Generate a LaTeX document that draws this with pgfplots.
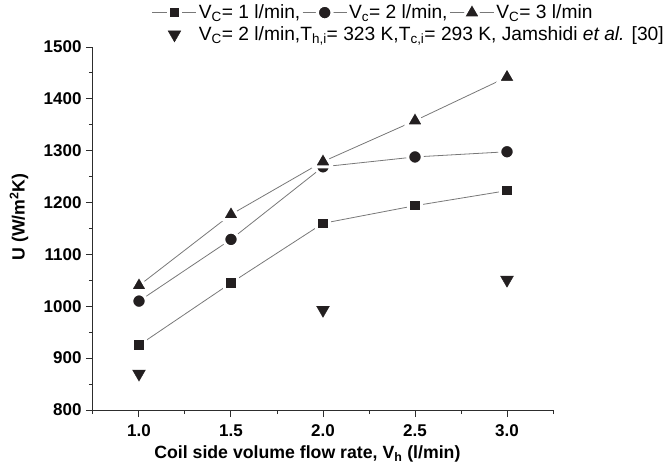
\documentclass[border=0pt]{standalone}
\usepackage{fontspec}
\setmainfont{Liberation Sans}
\usepackage{pgfplots}
\pgfplotsset{compat=1.18}
\definecolor{mk}{RGB}{35,31,32}
\definecolor{ln}{RGB}{120,120,120}
\definecolor{ax}{RGB}{45,45,45}
% white rim round each mark leaves the small gap between line and mark
\tikzset{mk style/.style={solid, fill=mk, draw=white, line width=3pt}}

\begin{document}
\begin{tikzpicture}
\begin{axis}[
scale only axis,
width=460pt, height=363pt,
xmin=0.75, xmax=3.25, ymin=800, ymax=1500,
axis x line*=bottom, axis y line*=left,
axis line style={ax, line width=1pt},
xtick={1,1.5,2,2.5,3},
minor xtick={0.75,1.25,1.75,2.25,2.75,3.25},
ytick={800,900,...,1500},
minor ytick={850,950,...,1450},
tick align=outside,
major tick length=7pt, minor tick length=4pt,
tick style={ax, line width=1pt},
x tick label style={/pgf/number format/fixed, /pgf/number format/fixed zerofill, /pgf/number format/precision=1, yshift=-4pt},
y tick label style={/pgf/number format/1000 sep={}, xshift=-1pt},
/pgf/number format/assume math mode=true,
tick label style={font=\fontsize{17}{19}\selectfont\bfseries},
xlabel={Coil side volume flow rate, V\textsubscript{h} (l/min)},
ylabel={U (W/m\textsuperscript{2}K)},
label style={font=\fontsize{17.7}{20}\selectfont\bfseries},
xlabel style={at={(axis description cs:0.466,0)}, anchor=base, yshift=-48pt},
ylabel style={at={(axis description cs:-0.161,0.532)}, anchor=center},
legend columns=3,
legend cell align=left,
legend style={draw=none, fill=none, at={(axis description cs:0.128,1.124)}, anchor=north west,
  inner sep=0pt, column sep=0pt, row sep=6.5pt, font=\fontsize{19.2}{21}\selectfont,
  nodes={inner xsep=2pt, inner ysep=0pt}},
legend image code/.code={\draw[mark repeat=2,mark phase=2,#1] plot coordinates {(0pt,0pt)(22pt,0pt)(44pt,0pt)};},
]

\addplot[ln, line width=0.8pt, mark=square*, mark size=6.3pt, mark options={mk style}]
coordinates {(1,925)(1.5,1045)(2,1160)(2.5,1194)(3,1223)};
\addlegendentry{V\textsubscript{C}= 1 l/min,}

\addplot[ln, line width=0.8pt, mark=*, mark size=7.3pt, mark options={mk style}]
coordinates {(1,1010)(1.5,1129)(2,1269)(2.5,1288)(3,1298)};
\addlegendentry{V\textsubscript{c}= 2 l/min,}

\addplot[ln, line width=0.8pt, mark=triangle*, mark size=10.4pt, mark options={mk style}]
coordinates {(1,1040)(1.5,1177)(2,1279)(2.5,1358)(3,1442)};
\addlegendentry{V\textsubscript{C}= 3 l/min}

\addplot[only marks, mark=triangle*, mark size=7.4pt, mark options={fill=mk, draw=mk, rotate=180, line width=0.4pt}]
coordinates {(1,870)(2,993)(3,1051)};
\addlegendentry{\makebox[0pt][l]{V\textsubscript{C}= 2 l/min,T\textsubscript{h,i}= 323 K,T\textsubscript{c,i}= 293 K, Jamshidi \textit{et al.} [30]}}

\end{axis}
\pgfresetboundingbox
\useasboundingbox (-93pt,-54pt) rectangle (571pt,410pt);
\end{tikzpicture}
\end{document}
